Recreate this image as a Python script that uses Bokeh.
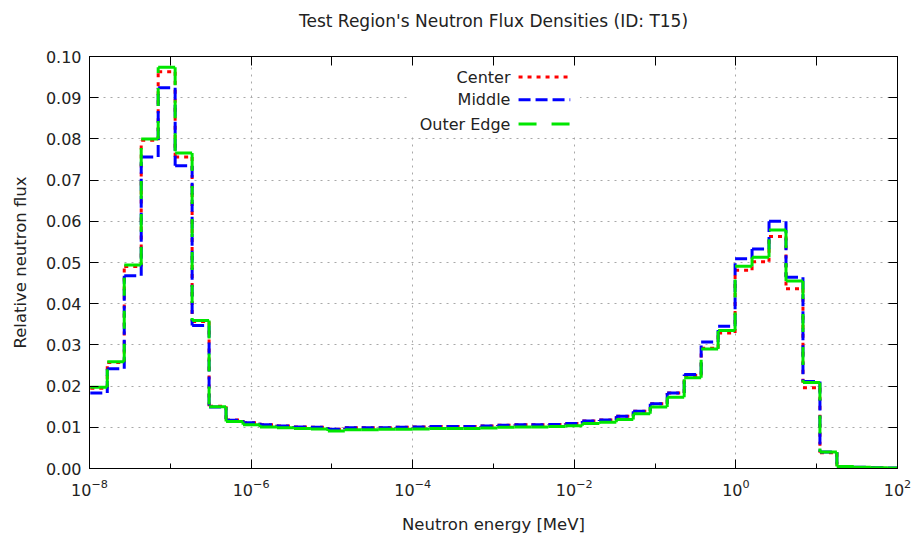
import numpy as np
from bokeh.plotting import figure
from bokeh.models import (FixedTicker, LogTickFormatter, NumeralTickFormatter, LogAxis,
                          LinearAxis, Range1d, LinearScale, Label, CustomJSTickFormatter)
from bokeh.embed import file_html
from bokeh.resources import INLINE

# ---------------- data ----------------
# bin edges, log10(E / MeV)
LOG10_EDGES = [-7.99, -7.78, -7.57, -7.36, -7.15, -6.94, -6.73, -6.52, -6.31, -6.10,
               -5.89, -5.68, -5.47, -5.26, -5.05, -4.84, -4.63, -4.42, -4.21, -4.00,
               -3.79, -3.58, -3.37, -3.16, -2.95, -2.74, -2.53, -2.32, -2.11, -1.90,
               -1.69, -1.48, -1.27, -1.06, -0.85, -0.64, -0.43, -0.22, -0.01, 0.20,
               0.41, 0.62, 0.83, 1.04, 1.25, 1.46, 1.67, 1.88, 2.09]

center = [0.0195, 0.0257, 0.0490, 0.0797, 0.0963, 0.0756, 0.0357, 0.0151, 0.0118, 0.0111,
          0.0106, 0.0103, 0.0101, 0.0100, 0.0095, 0.0099, 0.0099, 0.0099, 0.0100, 0.0101,
          0.0102, 0.0102, 0.0102, 0.0103, 0.0105, 0.0106, 0.0106, 0.0107, 0.0109, 0.0115,
          0.0118, 0.0127, 0.0139, 0.0157, 0.0183, 0.0226, 0.0292, 0.0329, 0.0481, 0.0502,
          0.0563, 0.0436, 0.0196, 0.0038, 0.0004, 0.0002, 0.0001, 0.0000]

middle = [0.0183, 0.0242, 0.0468, 0.0756, 0.0924, 0.0735, 0.0347, 0.0149, 0.0117, 0.0111,
          0.0106, 0.0103, 0.0101, 0.0100, 0.0095, 0.0099, 0.0099, 0.0099, 0.0100, 0.0101,
          0.0102, 0.0102, 0.0102, 0.0103, 0.0105, 0.0106, 0.0106, 0.0107, 0.0109, 0.0115,
          0.0118, 0.0127, 0.0139, 0.0157, 0.0183, 0.0228, 0.0307, 0.0345, 0.0509, 0.0533,
          0.0600, 0.0464, 0.0211, 0.0040, 0.0005, 0.0003, 0.0002, 0.0001]

outer = [0.0197, 0.0259, 0.0494, 0.0800, 0.0974, 0.0766, 0.0359, 0.0150, 0.0114, 0.0106,
         0.0101, 0.0099, 0.0097, 0.0096, 0.0091, 0.0094, 0.0094, 0.0095, 0.0095, 0.0096,
         0.0097, 0.0097, 0.0097, 0.0098, 0.0100, 0.0101, 0.0101, 0.0102, 0.0104, 0.0109,
         0.0112, 0.0119, 0.0133, 0.0149, 0.0173, 0.0220, 0.0290, 0.0335, 0.0491, 0.0513,
         0.0579, 0.0455, 0.0209, 0.0040, 0.0005, 0.0003, 0.0002, 0.0001]

title_text = "Test Region's Neutron Flux Densities (ID: T15)"
series_names = ["Center", "Middle", "Outer Edge"]
x_major = [1e-8, 1e-6, 1e-4, 1e-2, 1e0, 1e2]
x_minor = [1e-7, 1e-5, 1e-3, 1e-1, 1e1]
y_ticks = [0.00, 0.01, 0.02, 0.03, 0.04, 0.05, 0.06, 0.07, 0.08, 0.09, 0.10]

edges = [10.0 ** e for e in LOG10_EDGES]


def step_segments(vals):
    xs, ys = [], []
    n = len(vals)
    for k in range(n):
        xs.append([edges[k], edges[k + 1]])
        ys.append([vals[k], vals[k]])
        if k + 1 < n:
            xs.append([edges[k + 1], edges[k + 1]])
            ys.append([vals[k], vals[k + 1]])
    return xs, ys


FONT = "DejaVu Sans"
TXT = "#222222"

p = figure(width=916, height=543, x_axis_type="log",
           x_range=Range1d(1e-8, 1e2), y_range=Range1d(0, 0.1),
           output_backend="svg", toolbar_location=None,
           min_border_left=89, min_border_right=19, min_border_top=56, min_border_bottom=75)

p.extra_x_ranges = {"frac": Range1d(0, 1)}
p.extra_x_scales = {"frac": LinearScale()}
p.extra_y_ranges = {"frac": Range1d(0, 1)}
p.extra_y_scales = {"frac": LinearScale()}

p.outline_line_color = "black"
p.outline_line_width = 1
p.background_fill_color = "white"
p.border_fill_color = "white"

# bottom axis
xa = p.xaxis[0]
xa.ticker = FixedTicker(ticks=x_major, minor_ticks=x_minor)
xa.formatter = LogTickFormatter()
xa.major_tick_in = 9
xa.major_tick_out = 0
xa.minor_tick_in = 5
xa.minor_tick_out = 0
xa.major_label_standoff = 10
xa.major_label_text_font = FONT
xa.major_label_text_font_size = "16px"
xa.major_label_text_color = TXT
xa.axis_label = "Neutron energy [MeV]"
xa.axis_label_text_font = FONT
xa.axis_label_text_font_size = "16.5px"
xa.axis_label_text_font_style = "normal"
xa.axis_label_text_color = TXT
xa.axis_label_standoff = 16
xa.axis_line_color = "black"

# left axis
ya = p.yaxis[0]
ya.ticker = FixedTicker(ticks=y_ticks)
ya.formatter = NumeralTickFormatter(format="0.00")
ya.major_tick_in = 9
ya.major_tick_out = 0
ya.minor_tick_line_color = None
ya.major_label_standoff = 8
ya.major_label_text_font = FONT
ya.major_label_text_font_size = "16px"
ya.major_label_text_color = TXT
ya.axis_label = "Relative neutron flux"
ya.axis_label_text_font = FONT
ya.axis_label_text_font_size = "16.5px"
ya.axis_label_text_font_style = "normal"
ya.axis_label_text_color = TXT
ya.axis_label_standoff = 13
ya.axis_line_color = "black"

blank = CustomJSTickFormatter(code="return ''")

# top mirror axis; its axis label carries the chart title
top = LogAxis(ticker=FixedTicker(ticks=x_major + x_minor), formatter=blank,
              major_tick_in=9, major_tick_out=0, minor_tick_line_color=None,
              major_label_standoff=0, axis_line_color="black",
              axis_label=title_text, axis_label_text_font=FONT,
              axis_label_text_font_size="17px", axis_label_text_font_style="normal",
              axis_label_text_color=TXT, axis_label_standoff=26)
p.add_layout(top, "above")
right = LinearAxis(ticker=FixedTicker(ticks=y_ticks), formatter=blank,
                   major_tick_in=9, major_tick_out=0, minor_tick_line_color=None,
                   major_label_standoff=0, axis_line_color="black")
p.add_layout(right, "right")

# grid
p.xgrid.ticker = FixedTicker(ticks=x_major)
p.ygrid.ticker = FixedTicker(ticks=y_ticks)
for g in (p.xgrid[0], p.ygrid[0]):
    g.grid_line_color = "#a8a8a8"
    g.grid_line_dash = "2 5"
    g.grid_line_width = 1

# opaque key box
p.quad(left=[0.395], right=[0.607], bottom=[0.815], top=[0.975],
       x_range_name="frac", y_range_name="frac",
       fill_color="white", line_color=None)

styles = [("#ff0000", "4 5"), ("#0000ff", "12 5"), ("#00e600", "18 15")]
for vals, (col, dash) in zip([center, middle, outer], styles):
    xs, ys = step_segments(vals)
    p.multi_line(xs=xs, ys=ys, line_color=col, line_width=3, line_dash=dash)

# key (text right aligned, sample to the right)
key_y = [0.950, 0.895, 0.836]
for name, (col, dash), ky in zip(series_names, styles, key_y):
    p.add_layout(Label(x=0.521, y=ky, x_range_name="frac", y_range_name="frac",
                       text=name, text_align="right", text_baseline="middle",
                       text_font=FONT, text_font_size="16px", text_color=TXT))
    p.line(x=[0.531, 0.595], y=[ky, ky], x_range_name="frac", y_range_name="frac",
           line_color=col, line_width=3, line_dash=dash)

open("out.html", "w").write(file_html(p, INLINE))
